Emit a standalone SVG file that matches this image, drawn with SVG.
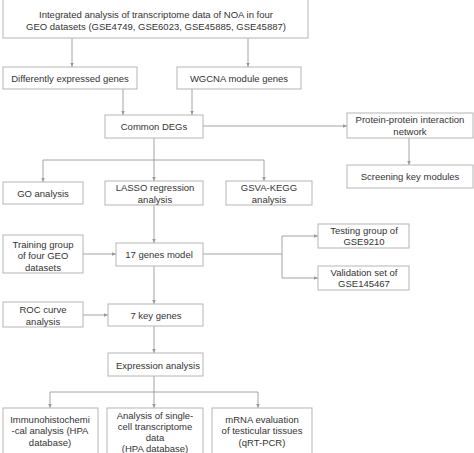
<svg xmlns="http://www.w3.org/2000/svg" width="474" height="453" viewBox="0 0 474 453">
<defs>
<marker id="ah" markerWidth="5" markerHeight="5" refX="4.5" refY="2.5" orient="auto" markerUnits="userSpaceOnUse">
<path d="M0,0.5 L4.5,2.5 L0,4.5 z" fill="#999"/>
</marker>
<style>
.box{fill:#fff;stroke:#b5b5b5;stroke-width:1}
.t{font-family:"Liberation Sans",Arial,sans-serif;font-size:9.5px;fill:#333;text-anchor:middle}
.c{fill:none;stroke:#9a9a9a;stroke-width:0.9}
</style>
</defs>
<rect width="474" height="453" fill="#fff"/>
<g id="connectors">
<path class="c" d="M72,38V67" marker-end="url(#ah)"/>
<path class="c" d="M248,38V67" marker-end="url(#ah)"/>
<path class="c" d="M123,89V115" marker-end="url(#ah)"/>
<path class="c" d="M192,89V115" marker-end="url(#ah)"/>
<path class="c" d="M203,126H347" marker-end="url(#ah)"/>
<path class="c" d="M409,138V165" marker-end="url(#ah)"/>
<path class="c" d="M154,138V160"/>
<path class="c" d="M43,160H264"/>
<path class="c" d="M43,160V182" marker-end="url(#ah)"/>
<path class="c" d="M154,160V181" marker-end="url(#ah)"/>
<path class="c" d="M264,160V181" marker-end="url(#ah)"/>
<path class="c" d="M154,205V243" marker-end="url(#ah)"/>
<path class="c" d="M83,254H116" marker-end="url(#ah)"/>
<path class="c" d="M203,254H282"/>
<path class="c" d="M282,236V278"/>
<path class="c" d="M282,236H318" marker-end="url(#ah)"/>
<path class="c" d="M282,278H318" marker-end="url(#ah)"/>
<path class="c" d="M154,266V304" marker-end="url(#ah)"/>
<path class="c" d="M83,315H108" marker-end="url(#ah)"/>
<path class="c" d="M154,326V353" marker-end="url(#ah)"/>
<path class="c" d="M154,376V392"/>
<path class="c" d="M50,392H258"/>
<path class="c" d="M50,392V408" marker-end="url(#ah)"/>
<path class="c" d="M154,392V408" marker-end="url(#ah)"/>
<path class="c" d="M258,392V408" marker-end="url(#ah)"/>
</g>
<g id="n-top"><rect class="box" x="3" y="-1" width="305" height="39"/>
<text class="t" x="156" y="18.3">Integrated analysis of transcriptome data of NOA in four</text>
<text class="t" x="156" y="29.5">GEO datasets (GSE4749, GSE6023, GSE45885, GSE45887)</text></g>
<g id="n-deg"><rect class="box" x="3" y="67" width="134" height="22"/>
<text class="t" x="70" y="81.5">Differently expressed genes</text></g>
<g id="n-wgcna"><rect class="box" x="177" y="67" width="124" height="22"/>
<text class="t" x="239" y="81.5">WGCNA module genes</text></g>
<g id="n-common"><rect class="box" x="105" y="115" width="98" height="23"/>
<text class="t" x="154" y="130">Common DEGs</text></g>
<g id="n-ppi"><rect class="box" x="347" y="113" width="126" height="25"/>
<text class="t" x="410" y="123.4">Protein-protein interaction</text>
<text class="t" x="410" y="135">network</text></g>
<g id="n-screen"><rect class="box" x="347" y="165" width="126" height="23"/>
<text class="t" x="410" y="180">Screening key modules</text></g>
<g id="n-go"><rect class="box" x="3" y="182" width="80" height="22"/>
<text class="t" x="43" y="197">GO analysis</text></g>
<g id="n-lasso"><rect class="box" x="105" y="181" width="98" height="24"/>
<text class="t" x="155" y="191.3">LASSO regression</text>
<text class="t" x="155" y="202.8">analysis</text></g>
<g id="n-gsva"><rect class="box" x="226" y="181" width="86" height="24"/>
<text class="t" x="269" y="191.3">GSVA-KEGG</text>
<text class="t" x="269" y="202.8">analysis</text></g>
<g id="n-training"><rect class="box" x="3" y="235" width="80" height="38"/>
<text class="t" x="43" y="247.5">Training group</text>
<text class="t" x="43" y="259.3">of four GEO</text>
<text class="t" x="43" y="271">datasets</text></g>
<g id="n-17"><rect class="box" x="116" y="243" width="87" height="23"/>
<text class="t" x="159" y="258">17 genes model</text></g>
<g id="n-testing"><rect class="box" x="318" y="224" width="91" height="24"/>
<text class="t" x="364" y="233.5">Testing group of</text>
<text class="t" x="364" y="244.5">GSE9210</text></g>
<g id="n-valid"><rect class="box" x="318" y="266" width="91" height="24"/>
<text class="t" x="364" y="275.5">Validation set of</text>
<text class="t" x="364" y="286.5">GSE145467</text></g>
<g id="n-roc"><rect class="box" x="3" y="302" width="80" height="25"/>
<text class="t" x="43" y="313.3">ROC curve</text>
<text class="t" x="43" y="325">analysis</text></g>
<g id="n-7"><rect class="box" x="108" y="304" width="95" height="22"/>
<text class="t" x="156" y="318.5">7 key genes</text></g>
<g id="n-expr"><rect class="box" x="108" y="353" width="95" height="23"/>
<text class="t" x="158" y="368.5">Expression analysis</text></g>
<g id="n-ihc"><rect class="box" x="3" y="408" width="95" height="50"/>
<text class="t" x="50" y="422.5">Immunohistochemi</text>
<text class="t" x="50" y="434">-cal analysis (HPA</text>
<text class="t" x="50" y="445.5">database)</text></g>
<g id="n-single"><rect class="box" x="107" y="408" width="96" height="50"/>
<text class="t" x="155" y="418.5">Analysis of single-</text>
<text class="t" x="155" y="429.5">cell transcriptome</text>
<text class="t" x="155" y="440.5">data</text>
<text class="t" x="155" y="451.5">(HPA database)</text></g>
<g id="n-mrna"><rect class="box" x="212" y="408" width="100" height="50"/>
<text class="t" x="262" y="422.5">mRNA evaluation</text>
<text class="t" x="262" y="434">of testicular tissues</text>
<text class="t" x="262" y="445.5">(qRT-PCR)</text></g>
</svg>
